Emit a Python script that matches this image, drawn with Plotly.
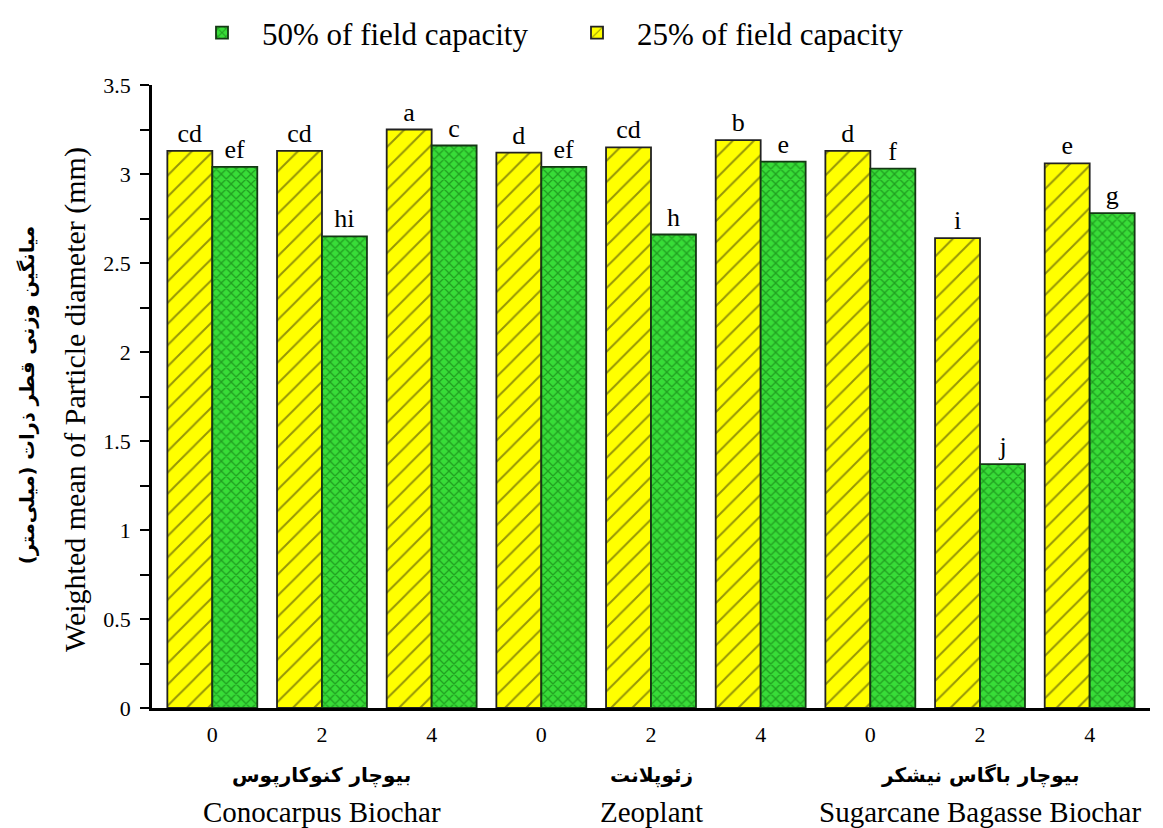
import plotly.graph_objects as go

groups_en = ["Conocarpus Biochar", "Zeoplant", "Sugarcane Bagasse Biochar"]
groups_fa = ["بیوچار کنوکارپوس", "زئوپلانت", "بیوچار باگاس نیشکر"]
doses = ["0", "2", "4"]
categories = [f"{g}|{d}" for g in groups_en for d in doses]
tick_text = [d for g in groups_en for d in doses]

fc25 = [3.13, 3.13, 3.25, 3.12, 3.15, 3.19, 3.13, 2.64, 3.06]
fc50 = [3.04, 2.65, 3.16, 3.04, 2.66, 3.07, 3.03, 1.37, 2.78]
letters25 = ["cd", "cd", "a", "d", "cd", "b", "d", "i", "e"]
letters50 = ["ef", "hi", "c", "ef", "h", "e", "f", "j", "g"]

y_title_en = "Weighted mean of Particle diameter (mm)"
y_title_fa = "میانگین وزنی قطر ذرات (میلی‌متر)"

SERIF = "Liberation Serif, Times New Roman, DejaVu Serif, serif"
FA = "DejaVu Sans, Noto Sans, sans-serif"

fig = go.Figure()
fig.add_trace(go.Bar(
    x=categories, y=fc25, name="25% of field capacity",
    text=letters25, textposition="outside", cliponaxis=False,
    textfont=dict(family=SERIF, size=26, color="black"),
    marker=dict(color="#FFFF00", line=dict(color="#222222", width=1.8),
                pattern=dict(shape="/", fgcolor="#2b2b10", bgcolor="#FFFF00",
                             size=15, solidity=0.13, fillmode="overlay")),
    legendrank=2,
))
fig.add_trace(go.Bar(
    x=categories, y=fc50, name="50% of field capacity",
    text=letters50, textposition="outside", cliponaxis=False,
    textfont=dict(family=SERIF, size=26, color="black"),
    marker=dict(color="#38DC38", line=dict(color="#143814", width=1.8),
                pattern=dict(shape="x", fgcolor="#0A640A", bgcolor="#38DC38",
                             size=7, solidity=0.35, fillmode="overlay")),
    legendrank=1,
))

for i, (en, fa) in enumerate(zip(groups_en, groups_fa)):
    mid = categories[i * 3 + 1]
    fig.add_annotation(x=mid, xref="x", y=-0.108, yref="paper", text=f"<b>{fa}</b>",
                       showarrow=False, yanchor="middle",
                       font=dict(family=FA, size=20, color="black"))
    fig.add_annotation(x=mid, xref="x", y=-0.167, yref="paper", text=en,
                       showarrow=False, yanchor="middle",
                       font=dict(family=SERIF, size=29, color="black"))

# y-axis titles (Persian and English lines)
fig.add_annotation(x=-0.0772, xref="paper", y=0.496, yref="paper", text=y_title_en,
                   textangle=-90, showarrow=False, xanchor="center", yanchor="middle",
                   font=dict(family=SERIF, size=30, color="black"))
fig.add_annotation(x=-0.1253, xref="paper", y=0.502, yref="paper", text=f"<b>{y_title_fa}</b>",
                   textangle=-90, showarrow=False, xanchor="center", yanchor="middle",
                   font=dict(family=FA, size=19.5, color="black"))

fig.update_layout(
    width=1163, height=828,
    margin=dict(l=152, r=13, t=85, b=120, autoexpand=False),
    paper_bgcolor="white", plot_bgcolor="white",
    barmode="group", bargap=0.18, bargroupgap=0,
    font=dict(family=SERIF, size=22, color="black"),
    showlegend=True,
    legend=dict(orientation="h", xref="container", x=182 / 1163, xanchor="left",
                yref="container", y=1 - 6 / 828, yanchor="top",
                font=dict(family=SERIF, size=31, color="black"),
                itemwidth=70, entrywidth=290, entrywidthmode="pixels",
                bgcolor="rgba(0,0,0,0)"),
)
fig.update_xaxes(
    type="category", categoryorder="array", categoryarray=categories,
    tickvals=categories, ticktext=tick_text, range=[-0.55, 8.55],
    showline=True, linecolor="black", linewidth=3, ticks="", showgrid=False,
    tickfont=dict(family=SERIF, size=22, color="black"), ticklabelstandoff=5,
    zeroline=False,
)
fig.update_yaxes(
    range=[0, 3.5], dtick=0.5, tick0=0,
    showline=True, linecolor="black", linewidth=2.5, ticks="outside", ticklen=9,
    tickwidth=1.5, tickcolor="black", showgrid=False, zeroline=False,
    tickfont=dict(family=SERIF, size=22, color="black"), ticklabelstandoff=5,
    minor=dict(dtick=0.25, ticks="outside", ticklen=9, tickwidth=1.5, tickcolor="black", showgrid=False),
)

fig.write_html("out.html")
